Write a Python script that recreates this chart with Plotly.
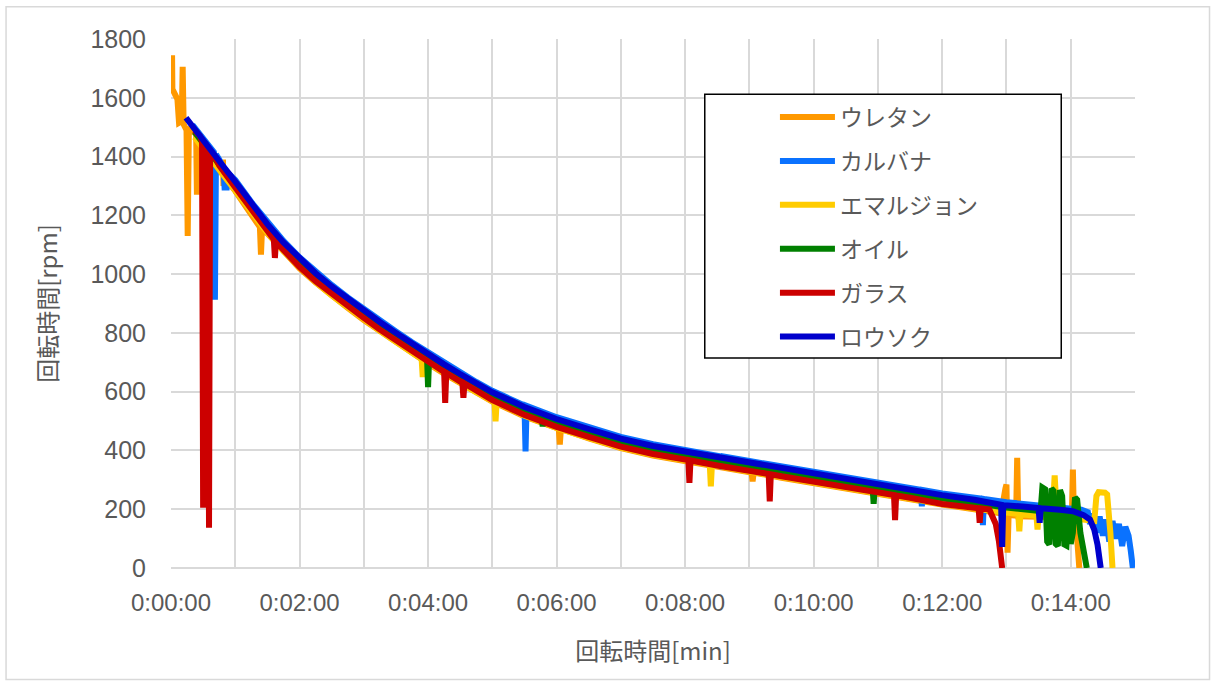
import plotly.graph_objects as go

# elapsed time [s] and rotational speed [rpm] for each coating
urethane_t = [1.0, 1.3, 6.0, 7.5, 10.0, 10.9, 11.8, 14.5, 15.6, 16.7, 23.5, 24.2, 25.0, 30, 45, 48, 48.5, 49, 50,
              60, 75, 83, 84, 85, 90, 105, 120, 135, 150, 165, 180, 195, 210, 225, 240, 255, 270, 285, 300, 330,
              360, 362, 363, 364, 390, 420, 450, 480, 510, 540, 542, 543, 544, 570, 600, 630, 660, 690, 720, 750,
              775, 779, 780, 781, 782, 789, 790, 791, 800, 811, 825, 840, 841, 842, 843, 846, 848]
urethane_rpm = [1745, 1630, 1595, 1515, 1520, 1705, 1510, 1490, 1130, 1500, 1475, 1270, 1465, 1428, 1353, 1340,
                1390, 1300, 1328, 1283, 1208, 1160, 1066, 1155, 1138, 1076, 1020, 972, 926, 885, 844, 806, 768,
                731, 696, 661, 628, 596, 566, 516, 475, 474, 420, 473, 441, 408, 383, 364, 344, 326, 325, 295,
                325, 307, 288, 270, 252, 234, 216, 200, 186, 270, 284, 52, 180, 178, 375, 176, 176, 176, 175, 172,
                172, 335, 170, 100, 0]

carnauba_t = [20, 30, 40, 41, 42, 45, 49, 50, 52, 53, 60, 75, 90, 105, 120, 135, 150, 165, 180, 195, 210, 225,
              240, 255, 270, 285, 300, 330, 331, 332, 360, 390, 420, 450, 480, 510, 514, 515, 516, 540, 570, 600,
              630, 660, 690, 700, 701, 702, 720, 750, 757, 758, 759, 780, 810, 840, 850, 856, 858, 861, 864, 867,
              870, 873, 876, 879, 882, 885, 888, 891, 894, 896, 898]
carnauba_rpm = [1508, 1463, 1415, 913, 1408, 1390, 1362, 1295, 1295, 1345, 1320, 1245, 1175, 1113, 1057, 1008,
                963, 921, 881, 842, 805, 768, 733, 698, 665, 633, 603, 553, 397, 552, 513, 479, 446, 421, 402,
                382, 379, 335, 379, 364, 345, 326, 308, 290, 272, 266, 210, 265, 254, 238, 236, 146, 235, 224,
                212, 200, 198, 190, 150, 185, 120, 175, 110, 165, 90, 160, 100, 150, 75, 140, 110, 60, 0]

emulsion_t = [22, 30, 45, 60, 75, 90, 105, 120, 135, 150, 165, 180, 195, 210, 225, 234, 235, 236, 240, 255, 270,
              285, 300, 302, 303, 304, 330, 360, 390, 420, 450, 480, 503, 504, 505, 540, 570, 600, 630, 660, 690,
              720, 750, 780, 791, 792, 793, 808, 809, 810, 823, 825, 827, 840, 855, 862, 864, 866, 872, 874, 877,
              879]
emulsion_rpm = [1466, 1430, 1355, 1285, 1210, 1140, 1078, 1022, 973, 928, 886, 846, 807, 770, 733, 711, 650, 709,
                698, 663, 630, 598, 568, 565, 499, 564, 518, 477, 443, 410, 385, 366, 352, 278, 351, 328, 309,
                290, 272, 254, 236, 218, 202, 188, 184, 125, 183, 178, 131, 178, 180, 315, 180, 170, 162, 160,
                245, 258, 256, 250, 120, 0]

oil_t = [22, 30, 45, 60, 75, 90, 105, 120, 135, 150, 165, 180, 195, 210, 225, 239, 240, 241, 255, 270, 285, 300,
         330, 346, 347, 348, 360, 390, 420, 450, 480, 510, 540, 570, 600, 630, 655, 656, 657, 690, 720, 750, 780,
         810, 812, 813.5, 816, 818, 820, 822, 824, 826, 828, 830, 832, 834, 836, 838, 840, 842, 844, 846, 849,
         852, 855]
oil_rpm = [1484, 1448, 1373, 1303, 1228, 1158, 1096, 1040, 991, 946, 904, 864, 825, 788, 751, 718, 615, 715, 681,
           648, 616, 586, 536, 514, 482, 513, 495, 461, 428, 403, 384, 364, 346, 327, 308, 290, 275, 218, 274,
           254, 236, 220, 206, 194, 200, 274, 268, 90, 80, 270, 262, 82, 75, 265, 245, 80, 76, 200, 82, 120, 240,
           232, 120, 60, 0]

glass_t = [22, 27, 29, 30, 31, 34, 35.5, 36.5, 40, 45, 60, 75, 90, 96, 97, 98, 105, 120, 135, 150, 165, 180, 195,
           210, 225, 240, 255, 256, 257, 272, 273, 274, 285, 300, 330, 360, 390, 420, 450, 480, 483, 484, 485, 510,
           540, 558, 559, 560, 570, 600, 630, 660, 675, 676, 677, 690, 720, 750, 754, 755, 756, 764, 770, 773, 776]
glass_rpm = [1490, 1470, 1450, 205, 1445, 1430, 137, 1410, 1405, 1370, 1295, 1220, 1148, 1118, 1055, 1112, 1082,
             1025, 976, 933, 890, 851, 811, 775, 737, 703, 667, 562, 664, 630, 579, 628, 602, 571, 521, 480, 446,
             413, 388, 369, 367, 290, 366, 349, 331, 320, 227, 319, 312, 293, 275, 257, 248, 163, 247, 239, 218,
             205, 203, 154, 203, 199, 150, 90, 0]

candle_t = [14, 20, 30, 45, 60, 75, 90, 105, 120, 135, 150, 165, 180, 195, 210, 225, 240, 255, 270, 285, 300, 330,
            360, 390, 420, 450, 480, 510, 540, 570, 600, 630, 660, 690, 720, 750, 775, 776, 777, 795, 810, 811,
            812, 830, 842, 852, 858, 862, 865, 868]
candle_rpm = [1532, 1505, 1460, 1385, 1315, 1240, 1170, 1108, 1052, 1003, 958, 916, 876, 837, 800, 763, 728, 693,
              660, 628, 598, 548, 507, 473, 440, 415, 396, 376, 358, 339, 320, 302, 284, 266, 248, 232, 215, 72,
              214, 209, 204, 154, 203, 198, 193, 180, 165, 130, 80, 0]

series_names = ["ウレタン", "カルバナ", "エマルジョン", "オイル", "ガラス", "ロウソク"]
series_colors = ["#FF9900", "#0A72FF", "#FFCC00", "#008000", "#CC0000", "#0000CC"]
series_t = [urethane_t, carnauba_t, emulsion_t, oil_t, glass_t, candle_t]
series_rpm = [urethane_rpm, carnauba_rpm, emulsion_rpm, oil_rpm, glass_rpm, candle_rpm]

x_tick_seconds = [0, 120, 240, 360, 480, 600, 720, 840]
x_tick_labels = ["0:00:00", "0:02:00", "0:04:00", "0:06:00", "0:08:00", "0:10:00", "0:12:00", "0:14:00"]

GRID = "#D9D9D9"
TEXT = "#595959"
NUM_FONT = "Liberation Sans, Noto Sans CJK JP, sans-serif"
JP_FONT = "Noto Sans CJK JP, sans-serif"

fig = go.Figure()
for name, color, t, rpm in zip(series_names, series_colors, series_t, series_rpm):
    fig.add_trace(go.Scatter(
        x=t, y=rpm, name=name, mode="lines", legendgroup=name,
        line=dict(color=color, width=6),
    ))

fig.update_layout(
    width=1217, height=684,
    margin=dict(l=171, r=81.5, t=39.3, b=115.5),
    paper_bgcolor="white", plot_bgcolor="white",
    showlegend=True,
    legend=dict(
        x=0.6265, y=0.893, xanchor="left", yanchor="top",
        bgcolor="rgba(0,0,0,0)", borderwidth=0,
        font=dict(family=JP_FONT, size=23, color=TEXT),
        tracegroupgap=11, itemwidth=55,
    ),
    xaxis=dict(
        range=[0, 900], tickmode="array", tickvals=x_tick_seconds, ticktext=x_tick_labels,
        showgrid=True, gridcolor=GRID, gridwidth=2,
        minor=dict(dtick=60, tick0=0, showgrid=True, gridcolor=GRID, gridwidth=2),
        zeroline=False, showline=False, ticks="",
        tickfont=dict(family=NUM_FONT, size=24, color=TEXT), ticklabelstandoff=18,
        title=dict(text="回転時間[min]", font=dict(family=JP_FONT, size=24, color=TEXT), standoff=28),
    ),
    yaxis=dict(
        range=[0, 1800], dtick=200, tick0=0,
        showgrid=True, gridcolor=GRID, gridwidth=2,
        zeroline=True, zerolinecolor=GRID, zerolinewidth=2, showline=False, ticks="",
        tickfont=dict(family=NUM_FONT, size=25, color=TEXT), ticklabelstandoff=24,
        title=dict(text="回転時間[rpm]", font=dict(family=JP_FONT, size=24, color=TEXT), standoff=25),
    ),
    shapes=[
        # outer chart border
        dict(type="rect", xref="paper", yref="paper", x0=-0.1711, x1=1.0773, y0=-0.2107, y1=1.061,
             line=dict(color="#D9D9D9", width=1.5), fillcolor="rgba(0,0,0,0)", layer="below"),
        # legend frame
        dict(type="rect", xref="paper", yref="paper", x0=0.5537, x1=0.9235, y0=0.3971, y1=0.8955,
             line=dict(color="black", width=1.5), fillcolor="white", layer="above"),
    ],
)

fig.write_html("out.html")
